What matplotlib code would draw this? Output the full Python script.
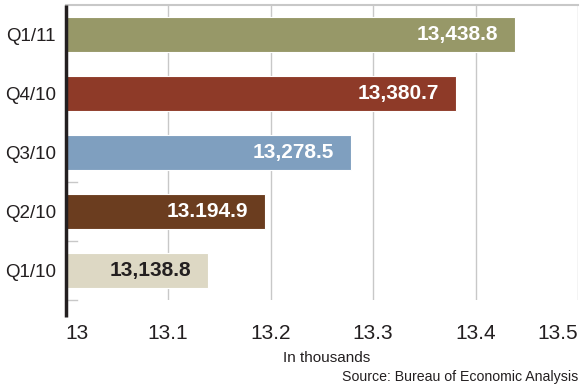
import matplotlib
matplotlib.use('Agg')
import matplotlib.pyplot as plt

# --- Dados (PIB trimestral, em milhares) ---
TRIMESTRES = ['Q1/10', 'Q2/10', 'Q3/10', 'Q4/10', 'Q1/11']
VALORES = [13.1388, 13.1949, 13.2785, 13.3807, 13.4388]
ROTULOS = ['13,138.8', '13.194.9', '13,278.5', '13,380.7', '13,438.8']
CORES = ['#ddd8c4', '#6b3d1f', '#7f9fbf', '#8e3a28', '#979868']
CORES_TEXTO = ['#231f20', 'white', 'white', 'white', 'white']
TICKS_X = [13, 13.1, 13.2, 13.3, 13.4, 13.5]
TICKS_X_ROTULOS = ['13', '13.1', '13.2', '13.3', '13.4', '13.5']

plt.rcParams['font.family'] = ['Liberation Sans', 'DejaVu Sans']

fig = plt.figure(figsize=(5.81, 3.90), dpi=100)
ax = fig.add_axes([65.5 / 581, 1 - 300 / 390, (578 - 65.5) / 581, 295 / 390])

base = TICKS_X[0]
larguras = [v - base for v in VALORES]
ax.barh(range(len(TRIMESTRES)), larguras, left=base, height=0.61,
        color=CORES, edgecolor='white', linewidth=0.8, zorder=3)

for i, (v, txt, cor) in enumerate(zip(VALORES, ROTULOS, CORES_TEXTO)):
    ax.annotate(txt, xy=(v, i), xytext=(-12, 0), textcoords='offset points',
                ha='right', va='center', color=cor, fontsize=15,
                fontweight='bold', zorder=4)

ax.set_xlim(13, 13.5)
ax.set_ylim(-0.5, 4.5)
ax.set_xticks(TICKS_X)
ax.set_xticklabels(TICKS_X_ROTULOS, fontsize=15, color='#231f20')
ax.set_yticks(range(len(TRIMESTRES)))
ax.set_yticklabels(TRIMESTRES, fontsize=13.5, color='#231f20')
ax.tick_params(axis='both', length=0)
ax.tick_params(axis='x', pad=17)
ax.tick_params(axis='y', pad=7)
rot_x = ax.get_xticklabels()
rot_x[0].set_ha('left')
rot_x[-1].set_ha('right')

ax.grid(axis='x', color='#c8c8c8', linewidth=1, zorder=0)

for lado in ['right', 'bottom', 'left']:
    ax.spines[lado].set_visible(False)
ax.spines['top'].set_color('#c8c8c8')
ax.spines['top'].set_linewidth(1.5)

# eixo vertical escuro, estendido abaixo da área do gráfico
ax.plot([13, 13], [-0.79, 4.5], color='#231f20', linewidth=2.5,
        clip_on=False, zorder=5, solid_capstyle='butt')

# pequenos traços cinza entre as barras
for y in [-0.5, 0.5, 1.5]:
    ax.plot([13, 13.011], [y, y], color='#c8c8c8', linewidth=1, clip_on=False, zorder=2)

fig.text(327 / 581, 1 - 358 / 390, 'In thousands', ha='center', va='center',
         fontsize=11, color='#231f20')
fig.text(578 / 581, 1 - 377 / 390, 'Source: Bureau of Economic Analysis',
         ha='right', va='center', fontsize=10.2, color='#231f20')

fig.savefig('out.png', dpi=100)
